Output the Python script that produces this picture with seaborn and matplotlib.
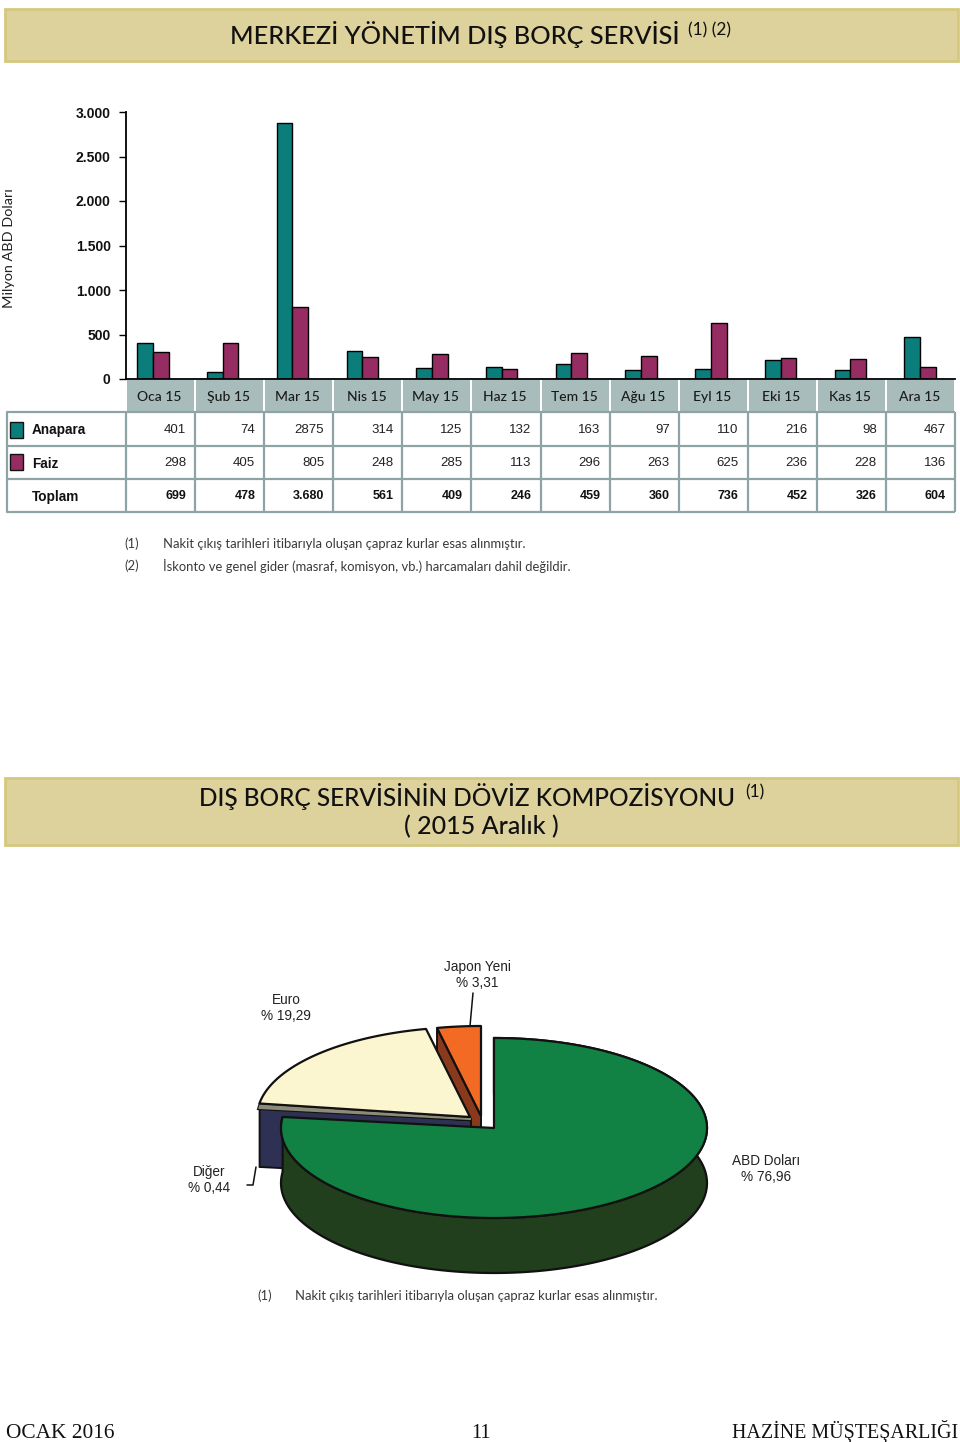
import numpy as np
import pandas as pd
import seaborn as sns
import matplotlib
matplotlib.use('Agg')
import matplotlib.pyplot as plt
from matplotlib.patches import Rectangle, Polygon

# chart values
months = ['Oca 15', 'Şub 15', 'Mar 15', 'Nis 15', 'May 15', 'Haz 15',
          'Tem 15', 'Ağu 15', 'Eyl 15', 'Eki 15', 'Kas 15', 'Ara 15']
anapara = [401, 74, 2875, 314, 125, 132, 163, 97, 110, 216, 98, 467]
faiz = [298, 405, 805, 248, 285, 113, 296, 263, 625, 236, 228, 136]
toplam = ['699', '478', '3.680', '561', '409', '246', '459', '360', '736', '452', '326', '604']
y_ticks = [0, 500, 1000, 1500, 2000, 2500, 3000]
y_labels = ['0', '500', '1.000', '1.500', '2.000', '2.500', '3.000']

pie_names = ['ABD Doları', 'Diğer', 'Euro', 'Japon Yeni']
pie_shares = [76.96, 0.44, 19.29, 3.31]

TEAL = '#0b7d7b'
PURPLE = '#962d62'
NARROW = 'Liberation Sans'
HUMAN = 'Lato'

sns.set_theme(style='white')
fig = plt.figure(figsize=(9.6, 14.42), dpi=100, facecolor='white')

# page axis in pixels, everything but the bars is placed on it
page = fig.add_axes([0, 0, 1, 1])
page.set_xlim(0, 960)
page.set_ylim(1442, 0)
page.axis('off')

# title bands
for top, bottom in [(9, 61), (778, 845)]:
    page.add_patch(Rectangle((5, top), 953, bottom - top, fc='#ddd29b', ec='#d5c77f', lw=2))
page.text(455, 35, 'MERKEZİ YÖNETİM DIŞ BORÇ SERVİSİ', family=HUMAN, fontsize=18.3, fontweight='medium',
          ha='center', va='center', color='#111111')
page.text(710, 30, '(1) (2)', family=HUMAN, fontsize=12.5, ha='center', va='center', color='#111111')
page.text(467, 797, 'DIŞ BORÇ SERVİSİNİN DÖVİZ KOMPOZİSYONU', family=HUMAN, fontsize=17.6, fontweight='medium',
          ha='center', va='center', color='#111111')
page.text(755, 792, '(1)', family=HUMAN, fontsize=12.5, ha='center', va='center', color='#111111')
page.text(481, 827, '( 2015 Aralık )', family=HUMAN, fontsize=18, fontweight='medium',
          ha='center', va='center', color='#111111')

# bars
bar_ax = fig.add_axes([126 / 960, 1 - 379 / 1442, 829 / 960, 267 / 1442])
bar_ax.patch.set_alpha(0)
df = pd.DataFrame({'ay': months, 'Anapara': anapara, 'Faiz': faiz})
long_df = df.melt(id_vars='ay', var_name='kalem', value_name='tutar')
sns.barplot(data=long_df, x='ay', y='tutar', hue='kalem', palette=[TEAL, PURPLE], width=0.45,
            gap=0, saturation=1, edgecolor='black', linewidth=1, legend=False, ax=bar_ax)
bar_ax.set_xlim(-0.387, 11.5)
bar_ax.set_ylim(0, 3000)
bar_ax.set_xlabel('')
bar_ax.set_ylabel('')
bar_ax.set_xticks([])
bar_ax.set_yticks(y_ticks)
bar_ax.set_yticklabels(y_labels, family=NARROW, fontsize=10, fontweight='bold', color='#111111')
bar_ax.tick_params(axis='y', left=True, length=5, width=1, color='black', pad=6)
sns.despine(ax=bar_ax, top=True, right=True)
for side in ['left', 'bottom']:
    bar_ax.spines[side].set_color('black')
    bar_ax.spines[side].set_linewidth(1.3)

page.text(9.5, 248, 'Milyon ABD Doları', family=HUMAN, fontsize=10.4, rotation=90,
          ha='center', va='center', color='#222222')

# table under the bars
col_left = 126
col_w = 829 / 12
rows = [412, 446, 479, 512]
line_c = '#8ea4a4'
for i, m in enumerate(months):
    x0 = col_left + i * col_w
    page.add_patch(Rectangle((x0 + 1, 380), col_w - 2, 32, fc='#a9bcbc', ec='none'))
    page.text(x0 + col_w / 2 - 1, 397, m, family=HUMAN, fontsize=10, fontweight='medium',
              ha='center', va='center', color='#1a1a1a')
    right = x0 + col_w - 9
    page.text(right, 430, str(anapara[i]), family=NARROW, fontsize=9.5, ha='right', va='center', color='#222222')
    page.text(right, 463, str(faiz[i]), family=NARROW, fontsize=9.5, ha='right', va='center', color='#222222')
    page.text(right, 496, toplam[i], family=NARROW, fontsize=9, fontweight='bold',
              ha='right', va='center', color='#111111')
for y in rows:
    page.plot([7, 955], [y, y], color=line_c, lw=1.6, solid_capstyle='butt')
for i in range(13):
    x0 = col_left + i * col_w
    page.plot([x0, x0], [rows[0], rows[-1]], color=line_c, lw=1.6, solid_capstyle='butt')
page.plot([7, 7], [rows[0], rows[-1]], color=line_c, lw=1.6)

for y, c, label, ty in [(422, TEAL, 'Anapara', 430), (454, PURPLE, 'Faiz', 464), (None, None, 'Toplam', 497)]:
    if y is not None:
        page.add_patch(Rectangle((10, y), 13, 16, fc=c, ec='#111111', lw=1))
    page.text(32, ty, label, family=NARROW, fontsize=9.8, fontweight='bold', ha='left', va='center', color='#111111')

# footnotes
NOTE = '#3a3a3a'
page.text(124, 544, '(1)', family=HUMAN, fontsize=9.4, va='center', color=NOTE)
page.text(163, 544, 'Nakit çıkış tarihleri itibarıyla oluşan çapraz kurlar esas alınmıştır.',
          family=HUMAN, fontsize=9.4, va='center', color=NOTE)
page.text(124, 566, '(2)', family=HUMAN, fontsize=9.4, va='center', color=NOTE)
page.text(163, 566, 'İskonto ve genel gider (masraf, komisyon, vb.) harcamaları dahil değildir.',
          family=HUMAN, fontsize=9.4, va='center', color=NOTE)
page.text(257, 1296, '(1)', family=HUMAN, fontsize=9.4, va='center', color=NOTE)
page.text(295, 1296, 'Nakit çıkış tarihleri itibarıyla oluşan çapraz kurlar esas alınmıştır.',
          family=HUMAN, fontsize=9.4, va='center', color=NOTE)

# exploded pie, angles come from the shares
RX, RY, DEPTH = 213, 90, 55
angles = 90 - np.cumsum([0] + pie_shares) * 3.6
centers = {'ABD Doları': (494, 1128), 'Diğer': (471, 1119), 'Euro': (470, 1117), 'Japon Yeni': (481, 1116)}
spans = {name: (angles[i], angles[i + 1]) for i, name in enumerate(pie_names)}


def rim(name, drop=0, a=None, b=None):
    cx, cy = centers[name]
    a = spans[name][0] if a is None else a
    b = spans[name][1] if b is None else b
    t = np.radians(np.linspace(a, b, 200))
    return np.column_stack([cx + RX * np.cos(t), cy - RY * np.sin(t) + drop])


def top_face(name, color, zorder):
    pts = np.vstack([[centers[name]], rim(name)])
    page.add_patch(Polygon(pts, closed=True, fc=color, ec='#111111', lw=1.6, joinstyle='round', zorder=zorder))


def cut_face(name, angle, color, zorder, depth=DEPTH):
    # flat face from the centre out to the rim, dropped by the depth
    c = np.array(centers[name], dtype=float)
    p = rim(name, a=angle, b=angle)[0]
    pts = np.array([c, p, p + [0, depth], c + [0, depth]])
    page.add_patch(Polygon(pts, closed=True, fc=color, ec='#111111', lw=1.4, zorder=zorder))


cut_face('Japon Yeni', spans['Japon Yeni'][0], '#8a3a1c', 3)
top_face('Japon Yeni', '#f26a24', 4)
cut_face('Diğer', spans['Diğer'][0], '#2f3154', 3.5, depth=59)

# the grey slice is so thin that it needs a wide edge to stay visible
thin = np.vstack([[centers['Diğer']], rim('Diğer')])
page.add_patch(Polygon(thin, closed=True, fc='#8c8a78', ec='#111111', lw=3.2, zorder=4.5))
page.add_patch(Polygon(thin, closed=True, fc='#8c8a78', ec='#8c8a78', lw=1.6, zorder=4.6))
top_face('Euro', '#fbf6cf', 5)

# green slice, its side wall first
front = rim('ABD Doları')
side = np.vstack([front, rim('ABD Doları', drop=DEPTH)[::-1]])
page.add_patch(Polygon(side, closed=True, fc='#213e1d', ec='#111111', lw=1.6, zorder=7))
top_face('ABD Doları', '#128244', 8)

# pie labels
for x, y, txt in [(286, 1008, 'Euro\n% 19,29'), (477, 975, 'Japon Yeni\n% 3,31'),
                  (209, 1180, 'Diğer\n% 0,44'), (766, 1169, 'ABD Doları\n% 76,96')]:
    page.text(x, y, txt, family=NARROW, fontsize=9.8, ha='center', va='center',
              color='#222222', linespacing=1.25)
page.plot([473, 470], [993, 1026], color='#111111', lw=1.1)
page.plot([247, 253, 256], [1185, 1185, 1167], color='#111111', lw=1.1)

# page footer
for x, ha, txt, size in [(6, 'left', 'OCAK 2016', 15.4), (481, 'center', '11', 14.5),
                         (958, 'right', 'HAZİNE MÜŞTEŞARLIĞI', 14.4)]:
    page.text(x, 1438, txt, family='Liberation Serif', fontsize=size, ha=ha, va='baseline', color='#111111')

fig.savefig('out.png', dpi=100, facecolor='white')
